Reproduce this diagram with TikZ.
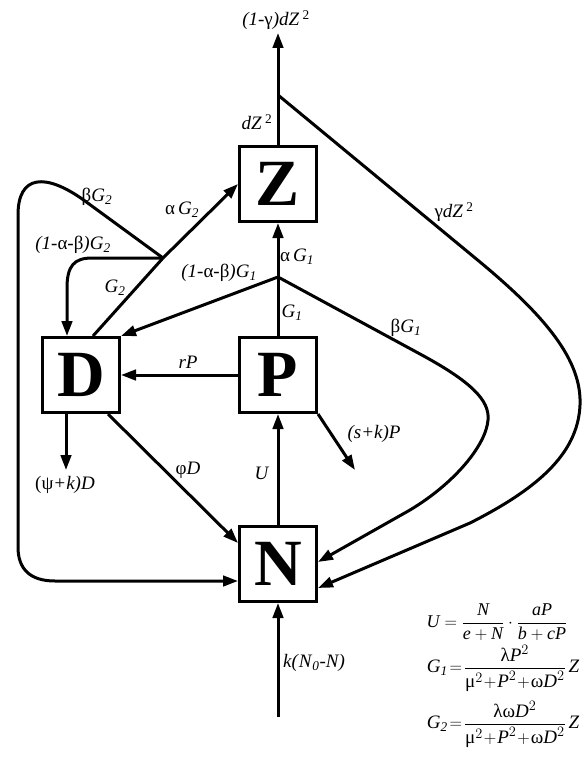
\documentclass[tikz,border=0pt]{standalone}
\usepackage{amsmath}
\usepackage{fontspec}
\setmainfont{Liberation Serif}
\usetikzlibrary{arrows.meta,calc}
\newcommand{\vi}[1]{\textit{#1}}
\newcommand{\gsub}[2]{\vi{#1}\textsubscript{\vi{#2}}}
\newcommand{\tsq}{\,\textsuperscript{2}}
\begin{document}
\begin{tikzpicture}[x=1pt,y=-1pt,
  conn/.style={line width=3pt},
  arr/.style={conn,-{Triangle[length=15pt,width=10.5pt]}},
  box/.style={draw,line width=3pt,minimum width=77pt,minimum height=75pt,inner sep=0pt,
    font=\fontsize{66}{66}\selectfont\bfseries},
  lab/.style={font=\fontsize{19}{22}\selectfont,inner sep=0pt},
  eqn/.style={font=\fontsize{18}{22}\selectfont,inner sep=0pt},
  eqnb/.style={font=\fontsize{19}{22}\selectfont,inner sep=0pt}]
\useasboundingbox (0,0) rectangle (586,757);

% boxes
\node[box] (Z) at (278,184) {Z};
\node[box] (D) at (81,375) {D};
\node[box] (P) at (278,375) {P};
\node[box] (N) at (278,564) {N};

% coordinates
\coordinate (T) at (278,33);
\coordinate (BZ) at (278,95);
\coordinate (B1) at (278,277);
\coordinate (B2) at (163,258);
\coordinate (S) at (278,717);
\coordinate (PsD) at (66,470);
\coordinate (PsP) at (355,470);

% Z outputs
\draw[arr] (Z.north) -- (T);
\draw[arr] (BZ) -- (480,262) .. controls (545,316) and (582,360) .. (580,405)
   .. controls (578,455) and (535,490) .. (470,523) -- ([yshift=-24pt]N.east);

% G1 branch
\draw[conn] (P.north) -- (B1);
\draw[arr] (B1) -- (Z.south);
\draw[arr] (B1) -- (D.north east);
\draw[arr] (B1) -- (420,354) .. controls (470,381) and (490,400) .. (488,420)
   .. controls (486,445) and (455,483) .. (410,510) -- ([yshift=2pt]N.east);

% G2 branch
\draw[conn] ([xshift=12pt]D.north) -- (B2);
\draw[arr] (B2) -- (Z.west);
\draw[arr] (B2) -- (85,201) .. controls (45,172) and (18,175) .. (18,215)
   -- (18,547) .. controls (18,569) and (30,581) .. (55,581) -- ([yshift=-17pt]N.west);
\draw[arr] (B2) -- (92,258) .. controls (74,258) and (67,266) .. (67,288) -- ([xshift=-14pt]D.north);

% other flows
\draw[arr] (P.west) -- (D.east);
\draw[arr] (P.south east) -- (PsP);
\draw[arr] ([xshift=-15pt]D.south) -- (PsD);
\draw[arr] ([xshift=27pt]D.south) -- ([yshift=21pt]N.west);
\draw[arr] (N.north) -- (P.south);
\draw[arr] (S) -- (N.south);

% labels
\node[lab] (l1) at (276,20) {\vi{(1-}γ\vi{)dZ}\tsq};
\node[lab] (l2) at (257,122) {\vi{dZ}\tsq};
\node[lab] (l3) at (454,212) {γ\vi{dZ}\tsq};
\node[lab] (l4) at (182,210) {α\,\gsub{G}{2}};
\node[lab] (l5) at (97,197) {β\gsub{G}{2}};
\node[lab] (l6) at (73,245) {\vi{(1-}α-β\vi{)}\gsub{G}{2}};
\node[lab] (l7) at (115,288) {\gsub{G}{2}};
\node[lab] (l8) at (297,257) {α\,\gsub{G}{1}};
\node[lab] (l9) at (219,273) {\vi{(1-}α-β\vi{)}\gsub{G}{1}};
\node[lab] (l10) at (292,313) {\gsub{G}{1}};
\node[lab] (l11) at (406,328) {β\gsub{G}{1}};
\node[lab] (l12) at (188,362) {\vi{rP}};
\node[lab] (l13) at (374,434) {\vi{(s+k)P}};
\node[lab] (l14) at (188,470) {φ\vi{D}};
\node[lab] (l15) at (262,473) {\vi{U}};
\node[lab] (l16) at (65,485) {(ψ\vi{+k)D}};
\node[lab] (l17) at (314,663) {\vi{k(}\gsub{N}{0}\vi{-N)}};

% equations
\node[eqn] (e1) at (497,622) {$\textit{U}=\dfrac{\textit{N}}{\textit{e}+\textit{N}}\cdot\dfrac{\textit{aP}}{\textit{b}+\textit{cP}}$};
\node[eqnb] (e2) at (503,668) {$\textit{G}_{\textit{1}}\!=\!\dfrac{\textup{λ}\textit{P}^{2}}{\textup{μ}^{2}\!+\!\textit{P}^{2}\!+\!\textup{ω}\textit{D}^{2}}\,\textit{Z}$};
\node[eqnb] (e3) at (503,724) {$\textit{G}_{\textit{2}}\!=\!\dfrac{\textup{λω}\textit{D}^{2}}{\textup{μ}^{2}\!+\!\textit{P}^{2}\!+\!\textup{ω}\textit{D}^{2}}\,\textit{Z}$};
\end{tikzpicture}
\end{document}
